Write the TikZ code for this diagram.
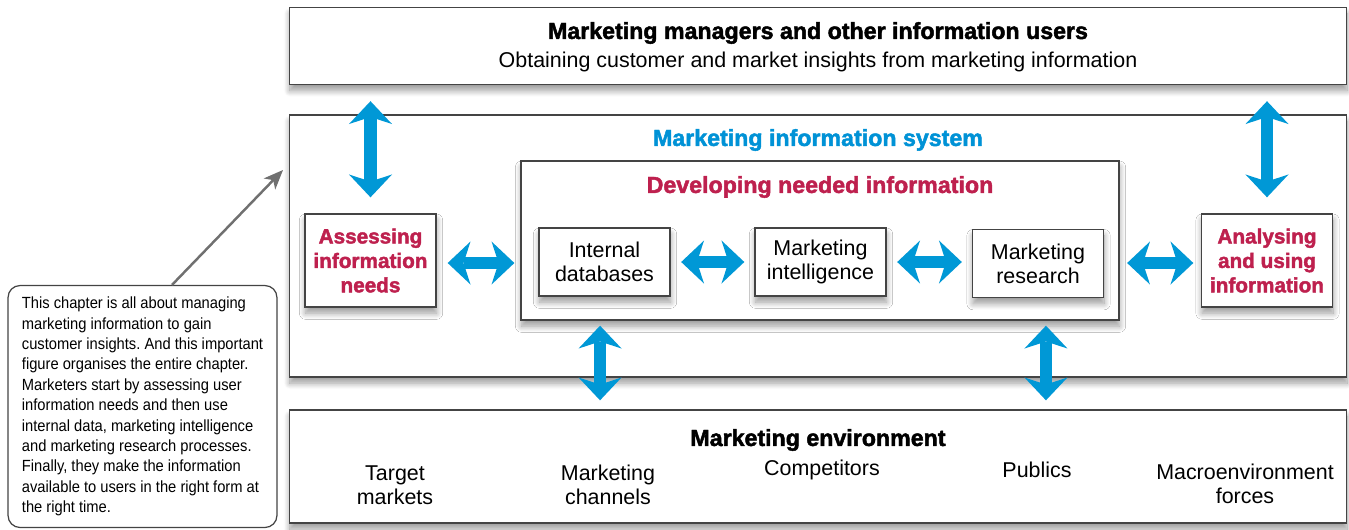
\documentclass[tikz,border=0pt]{standalone}
\usepackage{fontspec}
\setmainfont{Liberation Sans}
\newfontfamily\heavyfont[FakeBold=2]{Liberation Sans Bold}
\newfontfamily\narrowfont[FakeStretch=0.91]{Liberation Sans}
\usetikzlibrary{arrows.meta, calc, positioning, shadows.blur}
\definecolor{myArrowBlue}{RGB}{0, 152, 214}
\definecolor{myTitleBlue}{RGB}{0, 146, 214}
\definecolor{myCrimson}{RGB}{190, 32, 78}
\definecolor{myFrame}{RGB}{68, 68, 68}
\definecolor{myNoteGray}{RGB}{112, 112, 112}
\tikzstyle{box}= [draw=myFrame, line width=0.8pt, fill=white, blur shadow={shadow xshift=0.3pt, shadow yshift=-3.5pt, shadow blur radius=3.5pt, shadow blur steps=12, shadow opacity=40}]
\tikzstyle{Panel}= [box, minimum width=21.15cm, inner sep=0pt]
\tikzstyle{Source}= [box, minimum width=2.62cm, minimum height=1.36cm, align=center, font=\fontsize{12.2}{13.6}\selectfont]
\tikzstyle{Stage}= [box, minimum width=2.62cm, minimum height=1.86cm, align=center, text=myCrimson, font=\heavyfont\fontsize{11.8}{13.9}\selectfont]
\tikzstyle{heading}= [inner sep=0pt, font=\heavyfont\fontsize{13.2}{15}\selectfont]
\tikzstyle{item}= [align=center, inner sep=0pt, font=\fontsize{12.2}{13.6}\selectfont]
\tikzstyle{link}= [<->, myArrowBlue, line width=7pt]

\begin{document}
\begin{tikzpicture}[x=0.02cm, y=-0.02cm, >={Stealth[length=13pt, width=24.5pt, inset=4pt, line width=0pt]}]
    \useasboundingbox (0,0) rectangle (1349,529);

    % users on top
    \node [Panel, minimum height=1.54cm] (Users) at (818,46) {};
    \node [heading] (usersTitle) at (818,33) {Marketing managers and other information users};
    \node [item] (usersText) at (818,62) {Obtaining customer and market insights from marketing information};

    % the system
    \node [Panel, minimum height=5.24cm] (System) at (818,246) {};
    \node [heading, text=myTitleBlue] (systemTitle) at (818,140) {Marketing information system};

    \node [Stage] (Assess) at (370.5,260.5) {Assessing\\information\\needs};
    \node [Stage] (Analyse) at (1267,260.5) {Analysing\\and using\\information};

    \node [box, minimum width=11.96cm, minimum height=3.18cm] (Develop) at (820,240.5) {};
    \node [heading, text=myCrimson] (developTitle) at (820,187) {Developing needed information};

    \node [Source] (Internal) at (604.5,262) {Internal\\databases};
    \node [Source] (Intel) at (820.5,262) {Marketing\\intelligence};
    \node [Source] (Research) at (1038,263.5) {Marketing\\research};

    % environment at the bottom
    \node [Panel, minimum height=2.26cm] (Env) at (818,466.5) {};
    \node [heading] (envTitle) at (818,440) {Marketing environment};
    \node [item] (targets) at (395,485) {Target\\markets};
    \node [item] (channels) at (608,485) {Marketing\\channels};
    \node [item] (rivals) at (822,470) {Competitors};
    \node [item] (publics) at (1037,470) {Publics};
    \node [item] (macro) at (1245,484) {Macroenvironment\\forces};

    % note on the left
    \node [draw=myFrame, line width=0.7pt, rounded corners=0.24cm, fill=white,
        minimum width=5.38cm, minimum height=4.84cm, align=left, inner sep=0pt,
        font=\narrowfont\fontsize{9.2}{11.6}\selectfont\frenchspacing] (Note) at (142.5,406.5)
    {This chapter is all about managing\\
    marketing information to gain\\
    customer insights. And this important\\
    figure organises the entire chapter.\\
    Marketers start by assessing user\\
    information needs and then use\\
    internal data, marketing intelligence\\
    and marketing research processes.\\
    Finally, they make the information\\
    available to users in the right form at\\
    the right time.};
    \coordinate (noteEnd) at (283,170);
    \draw[-{Stealth[length=11pt, width=9pt, inset=3pt]}, myNoteGray, line width=1.4pt]
    ([xshift=0.59cm]Note.north) -- (noteEnd);

    % up and down links
    \draw[link, shorten <=0.32cm, shorten >=0.32cm] (Assess.north) -- (Assess.north |- Users.south);
    \draw[link, shorten <=0.32cm, shorten >=0.32cm] (Analyse.north) -- (Analyse.north |- Users.south);
    \draw[link, shorten <=0.1cm, shorten >=0.18cm]
    ([xshift=-4.4cm]Develop.south) -- ([xshift=-4.4cm]Develop.south |- Env.north);
    \draw[link, shorten <=0.1cm, shorten >=0.18cm]
    ([xshift=4.52cm]Develop.south) -- ([xshift=4.52cm]Develop.south |- Env.north);

    % side links
    \draw[link, shorten <=0.22cm, shorten >=0.12cm] ([yshift=-0.05cm]Assess.east) -- ([yshift=-0.05cm]Assess.east -| Develop.west);
    \draw[link, shorten <=0.21cm, shorten >=0.2cm] (Internal.east) -- (Intel.west);
    \draw[link, shorten <=0.21cm, shorten >=0.2cm] (Intel.east) -- (Research.west |- Intel.east);
    \draw[link, shorten <=0.15cm, shorten >=0.15cm] ([yshift=-0.05cm]Analyse.west -| Develop.east) -- ([yshift=-0.05cm]Analyse.west);

\end{tikzpicture}
\end{document}
